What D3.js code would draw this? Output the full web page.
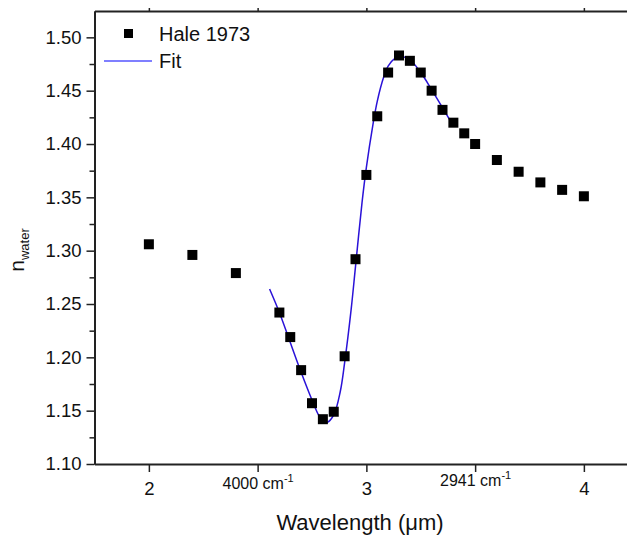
<!DOCTYPE html>
<html>
<head>
<meta charset="utf-8">
<script src="https://cdn.jsdelivr.net/npm/d3@7"></script>
<style>
  body { margin: 0; background: #fff; }
  text { font-family: Arial, "Liberation Sans", sans-serif; fill: #111; }
</style>
</head>
<body>
<div id="chart"></div>
<script>
// measured points (Hale 1973)
var wavelength = [2.0, 2.2, 2.4, 2.6, 2.65, 2.7, 2.75, 2.8, 2.85, 2.9, 2.95, 3.0, 3.05, 3.1,
  3.15, 3.2, 3.25, 3.3, 3.35, 3.4, 3.45, 3.5, 3.6, 3.7, 3.8, 3.9, 4.0];
var nWater = [1.306, 1.296, 1.279, 1.242, 1.219, 1.188, 1.157, 1.142, 1.149, 1.201, 1.292, 1.371, 1.426, 1.467,
  1.483, 1.478, 1.467, 1.450, 1.432, 1.420, 1.410, 1.400, 1.385, 1.374, 1.364, 1.357, 1.351];

// fit curve
var fitWavelength = [2.555, 2.6, 2.65, 2.7, 2.75, 2.78, 2.8, 2.82, 2.85, 2.88, 2.9, 2.93, 2.95, 2.98,
  3.0, 3.03, 3.05, 3.08, 3.1, 3.13, 3.16, 3.2, 3.25, 3.3, 3.35, 3.4];
var fitN = [1.264, 1.242, 1.214, 1.186, 1.160, 1.146, 1.140, 1.139, 1.146, 1.168, 1.195, 1.245, 1.285, 1.345,
  1.378, 1.418, 1.440, 1.463, 1.473, 1.480, 1.482, 1.479, 1.467, 1.451, 1.434, 1.417];

var yTicks = [1.10, 1.15, 1.20, 1.25, 1.30, 1.35, 1.40, 1.45, 1.50];
var yMinorTicks = [1.125, 1.175, 1.225, 1.275, 1.325, 1.375, 1.425, 1.475];
var xTicks = [2, 2.5, 3, 3.5, 4];
var xTickLabels = ["2", "4000", "3", "2941", "4"];
var legendLabels = ["Hale 1973", "Fit"];

var width = 627, height = 538;
var plotLeft = 94.5, plotTop = 11, plotBottom = 464;

var svg = d3.select('#chart').append('svg')
  .attr('width', width)
  .attr('height', height);

var x = d3.scaleLinear().domain([1.75, 4.25]).range([plotLeft, plotLeft + 2.5 * 217.5]);
var y = d3.scaleLinear().domain([1.10, 1.5247]).range([plotBottom, plotTop]);

var axisColor = '#222';

var xAxis = svg.append('g')
  .attr('transform', 'translate(0,' + plotBottom + ')')
  .call(d3.axisBottom(x).tickValues(xTicks).tickSize(8).tickSizeOuter(0).tickPadding(10)
    .tickFormat(function (d, i) { return xTickLabels[i]; }));

svg.append('g')
  .attr('transform', 'translate(0,' + plotTop + ')')
  .call(d3.axisTop(x).tickValues(xTicks).tickSize(3).tickSizeOuter(0).tickFormat(''));

svg.append('g')
  .attr('transform', 'translate(' + plotLeft + ',0)')
  .call(d3.axisLeft(y).tickValues(yTicks).tickSize(8).tickSizeOuter(0).tickPadding(5)
    .tickFormat(d3.format('.2f')));

svg.append('g')
  .attr('transform', 'translate(' + plotLeft + ',0)')
  .call(d3.axisLeft(y).tickValues(yMinorTicks).tickSize(5).tickSizeOuter(0).tickFormat(''));

svg.selectAll('.domain').attr('stroke', axisColor).attr('stroke-width', 2);
svg.selectAll('.tick line').attr('stroke', axisColor).attr('stroke-width', 1.5);
svg.selectAll('.tick text').attr('font-size', 18.5).attr('fill', '#111')
  .attr('font-family', 'Arial, "Liberation Sans", sans-serif');

// wavenumber labels: smaller, with cm^-1
xAxis.selectAll('.tick text')
  .filter(function (d) { return d === 2.5 || d === 3.5; })
  .each(function (d) {
    var t = d3.select(this);
    var lab = t.text();
    t.text(null).attr('font-size', 16).attr('y', 18).attr('dy', d === 2.5 ? 7 : 4);
    t.append('tspan').attr('fill', '#111').text(lab + ' cm');
    t.append('tspan').attr('fill', '#111').attr('font-size', 11).attr('dy', -7).text('-1');
  });

// fit line
var line = d3.line()
  .x(function (d, i) { return x(fitWavelength[i]); })
  .y(function (d, i) { return y(fitN[i]); })
  .curve(d3.curveCatmullRom);

svg.append('path')
  .datum(fitWavelength)
  .attr('d', line)
  .attr('fill', 'none')
  .attr('stroke', '#2a12d8')
  .attr('stroke-width', 1.5);

// data squares
var sq = 10;
svg.selectAll('rect.pt')
  .data(wavelength)
  .enter()
  .append('rect')
  .attr('class', 'pt')
  .attr('x', function (d) { return x(d) - sq / 2; })
  .attr('y', function (d, i) { return y(nWater[i]) - sq / 2; })
  .attr('width', sq)
  .attr('height', sq)
  .attr('fill', '#000');

// legend
var lg = svg.append('g');
lg.append('rect').attr('x', 124).attr('y', 29).attr('width', 9).attr('height', 9).attr('fill', '#000');
lg.append('text').attr('x', 159).attr('y', 41).attr('font-size', 20).text(legendLabels[0]);
lg.append('line').attr('x1', 104).attr('x2', 152).attr('y1', 61).attr('y2', 61)
  .attr('stroke', '#0000ff').attr('stroke-width', 1.2);
lg.append('text').attr('x', 159).attr('y', 68).attr('font-size', 20).text(legendLabels[1]);

// axis titles
svg.append('text')
  .attr('x', 360).attr('y', 530)
  .attr('text-anchor', 'middle')
  .attr('font-size', 22)
  .text('Wavelength (\u03bcm)');

var yl = svg.append('text')
  .attr('transform', 'translate(24,250) rotate(-90)')
  .attr('text-anchor', 'middle')
  .attr('font-size', 21);
yl.append('tspan').text('n');
yl.append('tspan').attr('font-size', 13).attr('dy', '0.35em').text('water');
</script>
</body>
</html>
